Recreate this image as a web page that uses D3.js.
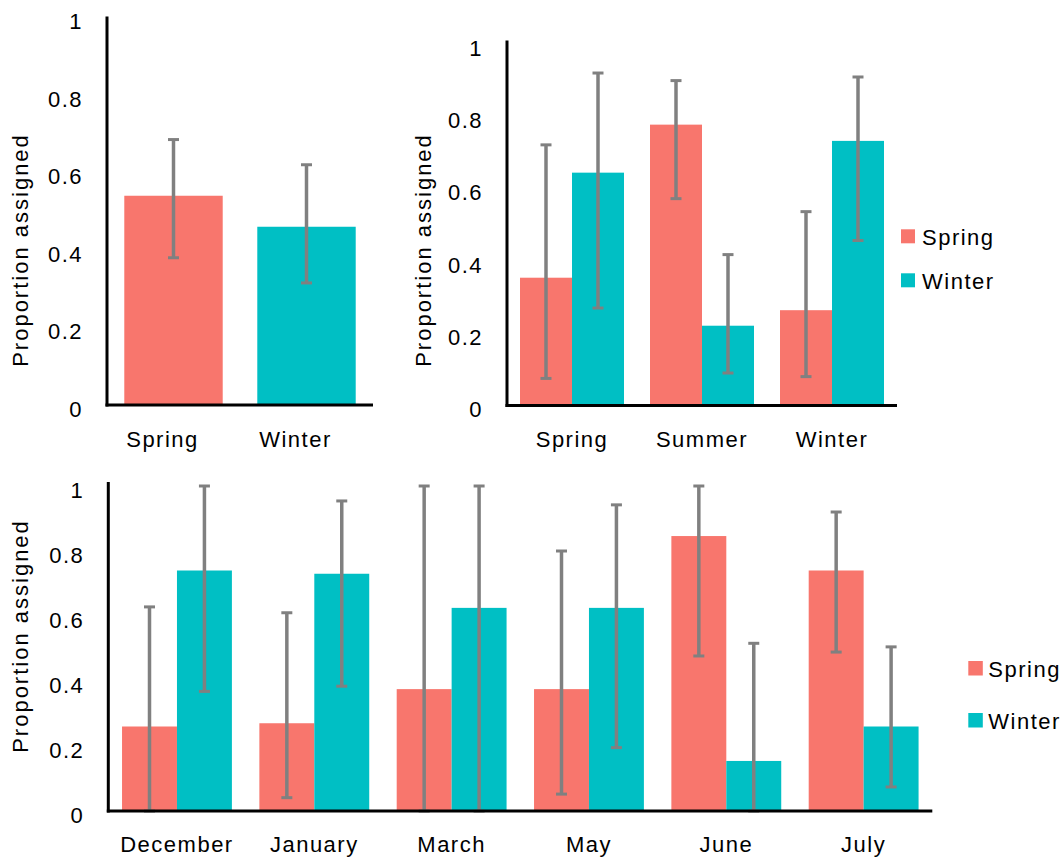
<!DOCTYPE html>
<html>
<head>
<meta charset="utf-8">
<script src="https://cdn.jsdelivr.net/npm/d3@7"></script>
<style>
  html, body { margin: 0; padding: 0; background: #ffffff; }
  svg { display: block; }
  text { font-family: "Liberation Sans", Arial, Helvetica, sans-serif; fill: #000; }
</style>
</head>
<body>
<svg id="chart" width="1064" height="857"></svg>
<script>
// ---------- data ----------
const seriesNames = ["Spring", "Winter"];
const seriesColors = ["#F8766D", "#00BFC4"];
const yTickValues = [0, 0.2, 0.4, 0.6, 0.8, 1];
const yTickLabels = ["0", "0.2", "0.4", "0.6", "0.8", "1"];
const yAxisTitle = "Proportion assigned";

// panel 1: single series, colour by category
const p1Categories = ["Spring", "Winter"];
const p1Values = [0.54, 0.46];
const p1Lower = [0.38, 0.315];
const p1Upper = [0.685, 0.62];

// panel 2: seasons
const p2Categories = ["Spring", "Summer", "Winter"];
const p2Spring = [0.354, 0.778, 0.264];
const p2Winter = [0.645, 0.221, 0.733];
const p2SpringLower = [0.075, 0.573, 0.08];
const p2SpringUpper = [0.722, 0.90, 0.537];
const p2WinterLower = [0.27, 0.09, 0.457];
const p2WinterUpper = [0.921, 0.418, 0.91];

// panel 3: months
const p3Categories = ["December", "January", "March", "May", "June", "July"];
const p3Spring = [0.26, 0.27, 0.375, 0.375, 0.846, 0.74];
const p3Winter = [0.74, 0.73, 0.625, 0.625, 0.154, 0.26];
const p3SpringLower = [0, 0.041, 0, 0.052, 0.477, 0.489];
const p3SpringUpper = [0.628, 0.61, 1, 0.80, 1, 0.92];
const p3WinterLower = [0.368, 0.384, 0, 0.195, 0, 0.074];
const p3WinterUpper = [1, 0.954, 1, 0.942, 0.516, 0.505];

// ---------- drawing ----------
const svg = d3.select("#chart");
const FONT = 22;
const ERR_COLOR = "#808080";

function drawYAxis(g, y, xPos, titleX, titleY) {
  const axis = d3.axisLeft(y)
    .tickValues(yTickValues)
    .tickFormat((d, i) => yTickLabels[i])
    .tickSize(0)
    .tickPadding(24);
  const ag = g.append("g").attr("transform", `translate(${xPos},0)`).call(axis);
  ag.select(".domain").remove();
  ag.selectAll("text")
    .attr("dy", "0.5em")
    .style("font-size", FONT + "px")
    .style("letter-spacing", "1.5px")
    .style("font-family", "'Liberation Sans', Arial, sans-serif")
    .attr("fill", "#000");
  g.append("text")
    .attr("transform", `translate(${titleX},${titleY}) rotate(-90)`)
    .attr("text-anchor", "middle")
    .style("font-size", FONT + "px")
    .style("letter-spacing", "2px")
    .text(yAxisTitle);
}

function drawAxisLines(g, x0, x1, y0, yTop) {
  g.append("line").attr("x1", x0).attr("x2", x0).attr("y1", yTop).attr("y2", y0 + 1.5)
    .attr("stroke", "#000").attr("stroke-width", 3);
  g.append("line").attr("x1", x0 - 1.5).attr("x2", x1).attr("y1", y0).attr("y2", y0)
    .attr("stroke", "#000").attr("stroke-width", 3);
}

function drawErrorBars(g, data, y) {
  const eg = g.append("g");
  eg.selectAll("line.v").data(data).join("line")
    .attr("class", "v")
    .attr("x1", d => d.cx).attr("x2", d => d.cx)
    .attr("y1", d => y(d.lo)).attr("y2", d => y(d.hi))
    .attr("stroke", ERR_COLOR).attr("stroke-width", 3.5);
  eg.selectAll("line.top").data(data).join("line")
    .attr("class", "top")
    .attr("x1", d => d.cx - 5.5).attr("x2", d => d.cx + 5.5)
    .attr("y1", d => y(d.hi)).attr("y2", d => y(d.hi))
    .attr("stroke", ERR_COLOR).attr("stroke-width", 3);
  eg.selectAll("line.bot").data(data).join("line")
    .attr("class", "bot")
    .attr("x1", d => d.cx - 5.5).attr("x2", d => d.cx + 5.5)
    .attr("y1", d => y(d.lo)).attr("y2", d => y(d.lo))
    .attr("stroke", ERR_COLOR).attr("stroke-width", 3);
}

function drawXLabels(g, cats, x, baseline, dx) {
  g.selectAll("text.xl").data(cats).join("text")
    .attr("class", "xl")
    .attr("x", d => x(d) + x.bandwidth() / 2 + dx)
    .attr("y", baseline)
    .attr("text-anchor", "middle")
    .style("font-size", FONT + "px")
    .style("letter-spacing", "1.5px")
    .text(d => d);
}

function drawLegend(g, lx, ly, gap, size, textDx, textDy) {
  const lg = g.append("g").attr("transform", `translate(${lx},${ly})`);
  const items = lg.selectAll("g").data(seriesNames).join("g")
    .attr("transform", (d, i) => `translate(0,${i * gap})`);
  items.append("rect").attr("x", 0).attr("y", 0).attr("width", size).attr("height", size)
    .attr("fill", (d, i) => seriesColors[i]);
  items.append("text").attr("x", textDx).attr("y", size / 2 + textDy)
    .style("font-size", FONT + "px")
    .style("letter-spacing", "1.5px")
    .text(d => d);
}

// ----- Panel 1 -----
(function () {
  const g = svg.append("g");
  const xL = 107, xR = 373, y0 = 405, y1 = 17.5;
  const x = d3.scaleBand().domain(p1Categories).range([xL, xR]).paddingInner(0.26).paddingOuter(0.13);
  const y = d3.scaleLinear().domain([0, 1]).range([y0, y1]);
  const rows = p1Categories.map((c, i) => ({ cat: c, v: p1Values[i], lo: p1Lower[i], hi: p1Upper[i], i }));
  g.selectAll("rect.bar").data(rows).join("rect")
    .attr("class", "bar")
    .attr("x", d => x(d.cat)).attr("width", x.bandwidth())
    .attr("y", d => y(d.v)).attr("height", d => y(0) - y(d.v))
    .attr("fill", d => seriesColors[d.i]);
  drawErrorBars(g, rows.map(d => ({ cx: x(d.cat) + x.bandwidth() / 2, lo: d.lo, hi: d.hi })), y);
  drawAxisLines(g, xL, xR, y0, y1 - 1);
  drawYAxis(g, y, xL, 28, 250);
  drawXLabels(g, p1Categories, x, 447, -11);
})();

// ----- grouped panel helper -----
function groupedPanel(cfg) {
  const g = svg.append("g");
  const x = d3.scaleBand().domain(cfg.cats).range([cfg.xL, cfg.xR]).paddingInner(0.2).paddingOuter(0.1);
  const xs = d3.scaleBand().domain(seriesNames).range([0, x.bandwidth()]);
  const y = d3.scaleLinear().domain([0, 1]).range([cfg.y0, cfg.y1]);
  const rows = [];
  cfg.cats.forEach((c, i) => {
    rows.push({ cat: c, s: "Spring", v: cfg.spring[i], lo: cfg.sLo[i], hi: cfg.sHi[i] });
    rows.push({ cat: c, s: "Winter", v: cfg.winter[i], lo: cfg.wLo[i], hi: cfg.wHi[i] });
  });
  g.selectAll("rect.bar").data(rows).join("rect")
    .attr("class", "bar")
    .attr("x", d => x(d.cat) + xs(d.s)).attr("width", xs.bandwidth())
    .attr("y", d => y(d.v)).attr("height", d => y(0) - y(d.v))
    .attr("fill", d => seriesColors[seriesNames.indexOf(d.s)]);
  drawErrorBars(g, rows.map(d => ({ cx: x(d.cat) + xs(d.s) + xs.bandwidth() / 2, lo: d.lo, hi: d.hi })), y);
  drawAxisLines(g, cfg.xL, cfg.xR, cfg.y0, cfg.y1 - 4);
  drawYAxis(g, y, cfg.xL, cfg.titleX, cfg.titleY);
  drawXLabels(g, cfg.cats, x, cfg.labelY, 0);
  drawLegend(g, cfg.legX, cfg.legY, cfg.legGap, cfg.legSize, cfg.legTextDx, 8.5);
}

// ----- Panel 2 -----
groupedPanel({
  cats: p2Categories, spring: p2Spring, winter: p2Winter,
  sLo: p2SpringLower, sHi: p2SpringUpper, wLo: p2WinterLower, wHi: p2WinterUpper,
  xL: 507, xR: 897, y0: 405.5, y1: 44.5,
  titleX: 431, titleY: 250, labelY: 447,
  legX: 901, legY: 229.3, legGap: 44, legSize: 14, legTextDx: 21
});

// ----- Panel 3 -----
groupedPanel({
  cats: p3Categories, spring: p3Spring, winter: p3Winter,
  sLo: p3SpringLower, sHi: p3SpringUpper, wLo: p3WinterLower, wHi: p3WinterUpper,
  xL: 108.3, xR: 932.3, y0: 811, y1: 486,
  titleX: 28, titleY: 636, labelY: 852,
  legX: 968.3, legY: 661, legGap: 52, legSize: 14.5, legTextDx: 20
});
</script>
</body>
</html>
